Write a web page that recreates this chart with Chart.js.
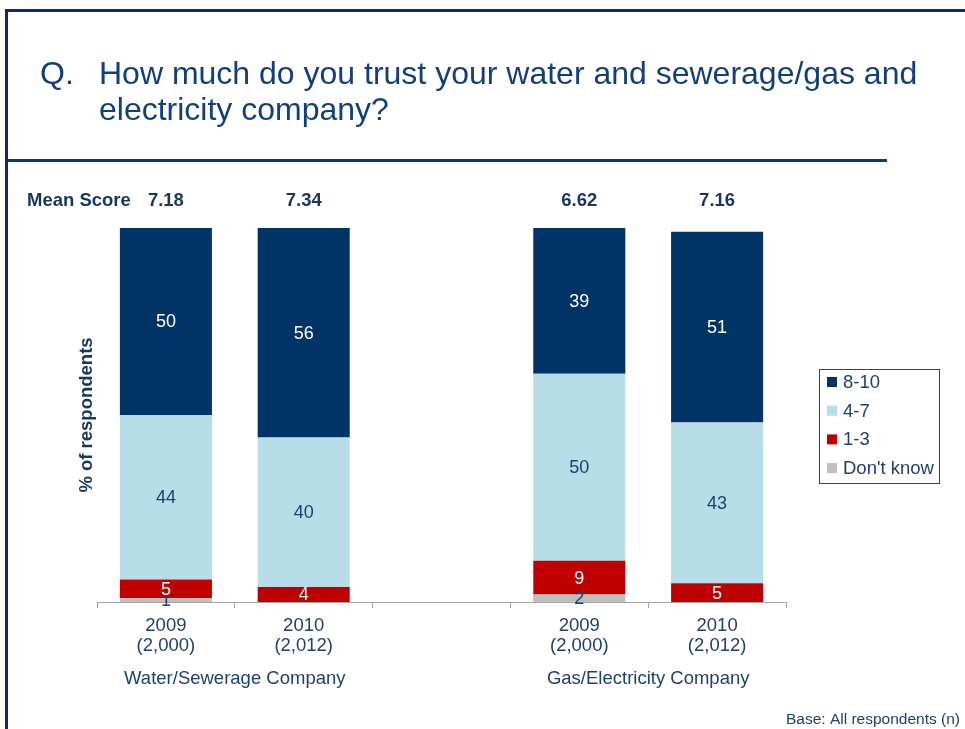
<!DOCTYPE html>
<html>
<head>
<meta charset="utf-8">
<script src="https://cdn.jsdelivr.net/npm/chart.js@4/dist/chart.umd.min.js"></script>
<style>
  html, body { margin: 0; padding: 0; background: #fff; }
  #wrap { width: 965px; height: 729px; }
</style>
</head>
<body>
<div id="wrap"><canvas id="trustChart" width="965" height="729"></canvas></div>
<script>
// ----------------------
// DATA
// ----------------------
const yearLabels = [['2009', '(2,000)'], ['2010', '(2,012)'], '', ['2009', '(2,000)'], ['2010', '(2,012)']];
const meanScores = [7.18, 7.34, null, 6.62, 7.16];
const dontKnow = [1, null, null, 2, null];
const score1to3 = [5, 4, null, 9, 5];
const score4to7 = [44, 40, null, 50, 43];
const score8to10 = [50, 56, null, 39, 51];
const groupNames = ['Water/Sewerage Company', 'Gas/Electricity Company'];
const groupSpans = [[0, 1], [3, 4]];

const NAVY = '#0b2d64';
const TEXT = '#1f3f6e';
const FONT = '"Liberation Sans", Arial, sans-serif';

// ----------------------
// PAGE DECORATION + LABELS
// ----------------------
const slidePlugin = {
  id: 'slide',
  beforeDraw(chart) {
    const ctx = chart.ctx;
    ctx.save();
    ctx.fillStyle = '#fff';
    ctx.fillRect(0, 0, chart.width, chart.height);

    // frame
    ctx.fillStyle = NAVY;
    ctx.fillRect(5, 9, 960, 3);
    ctx.fillRect(5, 9, 3, 720);

    // question
    ctx.fillStyle = '#123f7a';
    ctx.font = '32px ' + FONT;
    ctx.textBaseline = 'alphabetic';
    ctx.textAlign = 'left';
    ctx.fillText('Q.', 40, 84);
    ctx.fillText('How much do you trust your water and sewerage/gas and', 99, 84);
    ctx.fillText('electricity company?', 99, 120);

    // rule under question
    ctx.fillStyle = '#0e3a72';
    ctx.fillRect(8, 159, 879, 3);
    ctx.restore();
  },
  afterDatasetsDraw(chart) {
    const ctx = chart.ctx;
    ctx.save();
    ctx.font = '18px ' + FONT;
    ctx.textAlign = 'center';
    ctx.textBaseline = 'middle';
    chart.data.datasets.forEach((ds, di) => {
      const meta = chart.getDatasetMeta(di);
      meta.data.forEach((bar, i) => {
        const v = ds.data[i];
        if (!v) return;
        ctx.fillStyle = ds.labelColor;
        ctx.fillText(String(v), bar.x, (bar.y + bar.base) / 2 + 1);
      });
    });
    ctx.restore();
  },
  afterDraw(chart) {
    const ctx = chart.ctx;
    const xs = chart.scales.x;
    ctx.save();

    // mean score row
    ctx.fillStyle = '#17375e';
    ctx.font = 'bold 18.5px ' + FONT;
    ctx.textBaseline = 'middle';
    ctx.textAlign = 'left';
    ctx.fillText('Mean Score', 27, 201);
    ctx.textAlign = 'center';
    meanScores.forEach((m, i) => {
      if (m == null) return;
      ctx.fillText(m.toFixed(2), xs.getPixelForValue(i), 201);
    });

    // group names under the year ticks
    ctx.fillStyle = TEXT;
    ctx.font = '18.5px ' + FONT;
    groupNames.forEach((g, k) => {
      const [a, b] = groupSpans[k];
      const cx = (xs.getPixelForValue(a) + xs.getPixelForValue(b)) / 2;
      ctx.fillText(g, cx, 679);
    });

    // legend box
    const lx = 819, ly = 369, lw = 120, lh = 114;
    ctx.strokeStyle = '#27466f';
    ctx.lineWidth = 1;
    ctx.strokeRect(lx + 0.5, ly + 0.5, lw, lh);
    const order = chart.data.datasets.slice().reverse();
    ctx.textAlign = 'left';
    order.forEach((ds, k) => {
      const cy = 382 + k * 28.7;
      ctx.fillStyle = ds.backgroundColor;
      ctx.fillRect(827, cy - 5, 10, 10);
      ctx.fillStyle = TEXT;
      ctx.fillText(ds.label, 843, cy + 1);
    });

    // base note
    ctx.font = '15.5px ' + FONT;
    ctx.textAlign = 'right';
    ctx.fillStyle = TEXT;
    ctx.fillText('Base: All respondents (n)', 960, 720);
    ctx.restore();
  }
};

// ----------------------
// CHART
// ----------------------
const ctx = document.getElementById('trustChart').getContext('2d');

new Chart(ctx, {
  type: 'bar',
  data: {
    labels: yearLabels,
    datasets: [
      { label: "Don't know", data: dontKnow, backgroundColor: '#bfbfbf', labelColor: '#1f3f6e' },
      { label: '1-3', data: score1to3, backgroundColor: '#c00000', labelColor: '#ffffff' },
      { label: '4-7', data: score4to7, backgroundColor: '#b7dde8', labelColor: '#1f3f6e' },
      { label: '8-10', data: score8to10, backgroundColor: '#003366', labelColor: '#ffffff' }
    ]
  },
  options: {
    responsive: false,
    animation: false,
    devicePixelRatio: 1,
    layout: { padding: { left: 76, right: 179, top: 228, bottom: 0 } },
    datasets: {
      bar: { categoryPercentage: 1, barPercentage: 0.668, borderWidth: 0 }
    },
    plugins: {
      legend: { display: false },
      tooltip: { enabled: false }
    },
    scales: {
      x: {
        stacked: true,
        offset: true,
        grid: {
          display: true,
          offset: true,
          drawOnChartArea: false,
          drawTicks: true,
          tickLength: 6,
          color: '#a6a6a6'
        },
        border: { display: true, color: '#a6a6a6', width: 1 },
        ticks: {
          color: TEXT,
          font: { family: FONT, size: 18.5, lineHeight: 1.08 },
          padding: 8,
          maxRotation: 0,
          autoSkip: false
        },
        afterFit: s => { s.height = 127; }
      },
      y: {
        stacked: true,
        min: 0,
        max: 100,
        ticks: { display: false },
        grid: { display: false },
        border: { display: false },
        title: {
          display: true,
          text: '% of respondents',
          color: '#17375e',
          font: { family: FONT, size: 18.5, weight: 'bold' },
          padding: 0
        },
        afterFit: s => { s.width = 21; }
      }
    }
  },
  plugins: [slidePlugin]
});
</script>
</body>
</html>
